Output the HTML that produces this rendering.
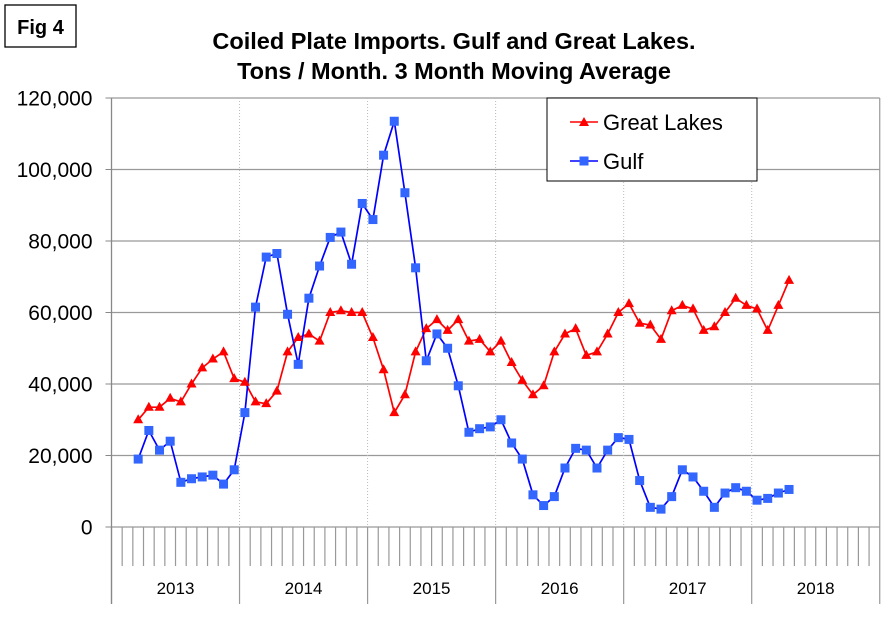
<!DOCTYPE html>
<html><head><meta charset="utf-8"><style>
body{margin:0;background:#fff;font-family:"Liberation Sans",Arial,sans-serif}
#wrap{position:relative;width:891px;height:622px}
</style></head><body>
<div id="wrap">
<svg id="svg" width="891" height="622" xmlns="http://www.w3.org/2000/svg">
<rect x="5" y="5" width="71" height="42" fill="#fff" stroke="#000" stroke-width="1.3"/>
<text x="40.5" y="34" text-anchor="middle" font-size="20" font-weight="bold" font-family="Liberation Sans, Arial, sans-serif">Fig 4</text>
<text x="454" y="49" text-anchor="middle" font-size="23.5" font-weight="bold" font-family="Liberation Sans, Arial, sans-serif">Coiled Plate Imports. Gulf and Great Lakes.</text>
<text x="454" y="79" text-anchor="middle" font-size="23.5" font-weight="bold" font-family="Liberation Sans, Arial, sans-serif">Tons / Month. 3 Month Moving Average</text>
<g id="grid"></g><g id="axes"></g><g id="series"></g>
<rect x="547" y="98" width="210" height="83" fill="#fff" stroke="#000" stroke-width="1"/>
<line x1="570" y1="122" x2="598" y2="122" stroke="#ff0000" stroke-width="1.5"/>
<polygon points="584,117 589,126 579,126" fill="#ff0000"/>
<text x="603" y="130" font-size="22" font-family="Liberation Sans, Arial, sans-serif">Great Lakes</text>
<line x1="570" y1="161" x2="598" y2="161" stroke="#0000ff" stroke-width="1.5"/>
<rect x="579.5" y="156.5" width="9" height="9" fill="#3366ff"/>
<text x="603" y="169" font-size="22" font-family="Liberation Sans, Arial, sans-serif">Gulf</text>
</svg></div>
<script>
const years=['2013','2014','2015','2016','2017','2018'];
const yTicks=[0,20000,40000,60000,80000,100000,120000];
const startMonth=2;
const greatLakes=[30000,33500,33500,36000,35000,40000,44500,47000,49000,41500,40500,35000,34500,38000,49000,53000,54000,52000,60000,60500,60000,60000,53000,44000,32000,37000,49000,55500,58000,55000,58000,52000,52500,49000,52000,46000,41000,37000,39500,49000,54000,55500,48000,49000,54000,60000,62500,57000,56500,52500,60500,62000,61000,55000,56000,60000,64000,62000,61000,55000,62000,69000];
const gulf=[19000,27000,21500,24000,12500,13500,14000,14500,12000,16000,32000,61500,75500,76500,59500,45500,64000,73000,81000,82500,73500,90500,86000,104000,113500,93500,72500,46500,54000,50000,39500,26500,27500,28000,30000,23500,19000,9000,6000,8500,16500,22000,21500,16500,21500,25000,24500,13000,5500,5000,8500,16000,14000,10000,5500,9500,11000,10000,7500,8000,9500,10500];
const X0=111.5,MW=10.67,Y0=527,YS=429/120000;
const xm=i=>X0+(i+0.5)*MW, xb=i=>X0+i*MW, y=v=>Y0-v*YS;
const NS='http://www.w3.org/2000/svg';
function mk(p,t,a){const e=document.createElementNS(NS,t);for(const k in a)e.setAttribute(k,a[k]);p.appendChild(e);return e;}
const grid=document.getElementById('grid'),axes=document.getElementById('axes'),ser=document.getElementById('series');
const nM=years.length*12, XR=xb(nM);
yTicks.forEach(v=>{
 const g=mk(grid,'line',{x1:X0,x2:XR,y1:y(v),y2:y(v),stroke:'#999','stroke-width':1.2});
 
 
 mk(axes,'line',{x1:X0-6,x2:X0,y1:y(v),y2:y(v),stroke:'#888'});
 const t=mk(axes,'text',{x:X0-19,y:y(v)+7.5,'text-anchor':'end','font-size':21,'font-family':'Liberation Sans, Arial, sans-serif'});
 t.textContent=v.toLocaleString('en-US');
 
 
});
years.forEach((yr,k)=>{
 if(k>0){const d=mk(grid,'line',{x1:xb(k*12),x2:xb(k*12),y1:y(120000),y2:Y0,stroke:'#bbb','stroke-dasharray':'1,2'});
 
 }
 mk(axes,'line',{x1:xb(k*12),x2:xb(k*12),y1:Y0,y2:604,stroke:'#999','stroke-width':1.2});
 const t=mk(axes,'text',{x:xb(k*12+6),y:594,'text-anchor':'middle','font-size':17,'font-family':'Liberation Sans, Arial, sans-serif'});
 t.textContent=yr;
 
 
});
mk(axes,'line',{x1:XR,x2:XR,y1:y(120000),y2:604,stroke:'#999','stroke-width':1.2});
for(let i=1;i<nM;i++){if(i%12)mk(axes,'line',{x1:xb(i),x2:xb(i),y1:Y0,y2:566,stroke:'#999','stroke-width':1.2});}
mk(axes,'line',{x1:X0,x2:X0,y1:y(120000),y2:604,stroke:'#888','stroke-width':1.3});
function line(data,color,name){
 const pts=data.map((v,i)=>xm(i+startMonth).toFixed(1)+','+y(v).toFixed(1)).join(' ');
 const p=mk(ser,'polyline',{points:pts,fill:'none',stroke:color,'stroke-width':1.7});
 
 
}
line(greatLakes,'#ff0000','great-lakes');
line(gulf,'#0000ff','gulf');
greatLakes.forEach((v,i)=>{const cx=xm(i+startMonth),cy=y(v);
 const m=mk(ser,'polygon',{points:`${cx},${cy-5.5} ${cx+5},${cy+3.5} ${cx-5},${cy+3.5}`,fill:'#ff0000'});
 
 });
gulf.forEach((v,i)=>{const cx=xm(i+startMonth),cy=y(v);
 const m=mk(ser,'rect',{x:cx-4.5,y:cy-4.5,width:9,height:9,fill:'#3366ff'});
 
 });
</script>
</body></html>
